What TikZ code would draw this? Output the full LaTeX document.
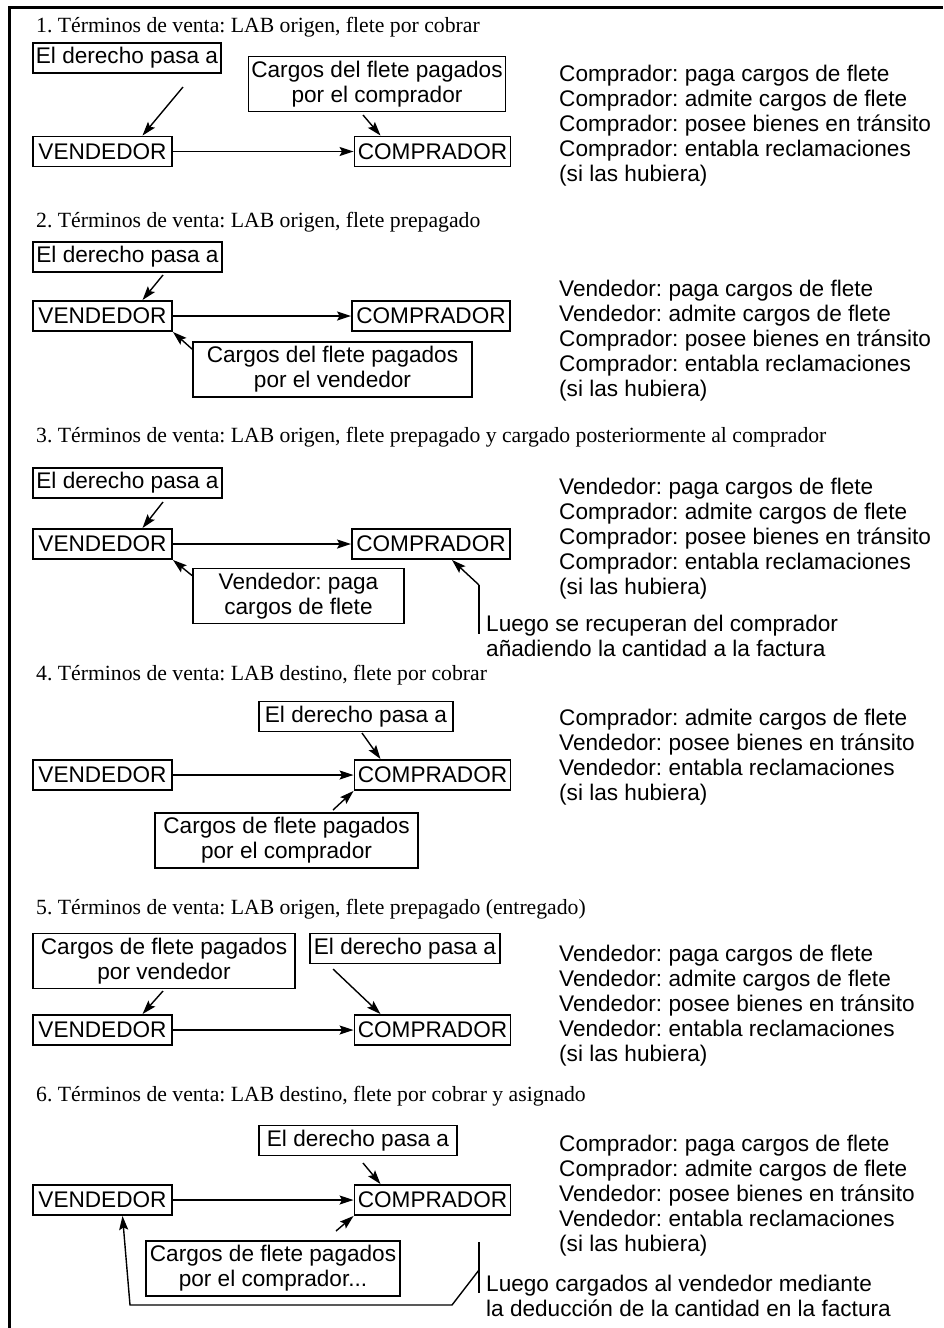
\documentclass[tikz,border=0pt]{standalone}
\usepackage{fontspec}
\setmainfont{Liberation Serif}
\setsansfont{Liberation Sans}
\usetikzlibrary{arrows.meta,calc}
\frenchspacing

\begin{document}
\begin{tikzpicture}[x=1pt,y=-1pt,
  bx/.style={draw, line width=1.9pt, inner sep=0pt, align=center,
    font=\sffamily\fontsize{22.6}{25}\selectfont, minimum height=30pt},
  bx2/.style={bx, minimum height=55pt},
  arr/.style={line width=1.4pt, -{Stealth[length=14pt,width=9pt,inset=2.5pt]}},
  ln/.style={line width=1.4pt},
  head/.style={anchor=base west, inner sep=0pt, font=\fontsize{21.7}{26}\selectfont},
  % multi-line blocks: the base anchor sits on the last line
  side/.style={anchor=base west, inner sep=0pt, align=left,
    font=\sffamily\fontsize{22.6}{25}\selectfont},
]
\useasboundingbox (0,0) rectangle (943,1328);

% outer frame (left and top rules)
\draw[line width=3pt] (9,1328) -- (9,7) -- (943,7);

% ---------- 1 ----------
\node[head] (h1) at (36,32) {1.\ Términos de venta: LAB origen, flete por cobrar};
\node[bx, minimum width=188pt] (d1) at (127,58) {El derecho pasa a};
\node[bx2, minimum width=257pt] (g1) at (377,84) {Cargos del flete pagados\\por el comprador};
\node[bx, minimum width=139pt] (v1) at (102.5,151.5) {VENDEDOR};
\node[bx, minimum width=156pt] (c1) at (432.5,151.5) {COMPRADOR};
\coordinate (s1a) at (183,87);
\coordinate (s1b) at (363,115);
\draw[arr] (v1) -- (c1);
\draw[arr] (s1a) -- ($(v1.north)+(40,0)$);
\draw[arr] (s1b) -- ($(c1.north)+(-52,0)$);
\node[side] (r1) at (559,181) {Comprador: paga cargos de flete\\Comprador: admite cargos de flete\\Comprador: posee bienes en tránsito\\Comprador: entabla reclamaciones\\(si las hubiera)};

% ---------- 2 ----------
\node[head] (h2) at (36,227) {2. Términos de venta: LAB origen, flete prepagado};
\node[bx, minimum width=189pt] (d2) at (127.5,257) {El derecho pasa a};
\node[bx, minimum width=139pt] (v2) at (102.5,316) {VENDEDOR};
\node[bx, minimum width=158pt] (c2) at (431,316) {COMPRADOR};
\node[bx2, minimum width=279pt] (g2) at (332.5,369.5) {Cargos del flete pagados\\por el vendedor};
\coordinate (s2a) at (163,275);
\draw[arr] (v2) -- (c2);
\draw[arr] (s2a) -- ($(v2.north)+(40,0)$);
\draw[arr] ($(g2.north west)+(0,8)$) -- (v2.south east);
\node[side] (r2) at (559,396) {Vendedor: paga cargos de flete\\Vendedor: admite cargos de flete\\Comprador: posee bienes en tránsito\\Comprador: entabla reclamaciones\\(si las hubiera)};

% ---------- 3 ----------
\node[head] (h3) at (36,442) {3. Términos de venta: LAB origen, flete prepagado y cargado posteriormente al comprador};
\node[bx, minimum width=189pt] (d3) at (127.5,483) {El derecho pasa a};
\node[bx, minimum width=139pt] (v3) at (102.5,544) {VENDEDOR};
\node[bx, minimum width=158pt] (c3) at (431,544) {COMPRADOR};
\node[bx2, minimum width=211pt] (p3) at (298.5,596) {Vendedor: paga\\cargos de flete};
\coordinate (s3a) at (163,502);
\coordinate (l3a) at (479,585);
\coordinate (l3b) at (479,634);
\draw[arr] (v3) -- (c3);
\draw[arr] (s3a) -- ($(v3.north)+(40,0)$);
\draw[arr] ($(p3.north west)+(0,8)$) -- (v3.south east);
\draw[ln] (l3a) -- (l3b);
\draw[arr] (l3a) -- ($(c3.south)+(21,0)$);
\node[side] (n3) at (486,656) {Luego se recuperan del comprador\\añadiendo la cantidad a la factura};
\node[side] (r3) at (559,594) {Vendedor: paga cargos de flete\\Comprador: admite cargos de flete\\Comprador: posee bienes en tránsito\\Comprador: entabla reclamaciones\\(si las hubiera)};

% ---------- 4 ----------
\node[head] (h4) at (36,680) {4. Términos de venta: LAB destino, flete por cobrar};
\node[bx, minimum width=194pt] (d4) at (356,716.5) {El derecho pasa a};
\node[bx, minimum width=139pt] (v4) at (102.5,775) {VENDEDOR};
\node[bx, minimum width=156pt] (c4) at (432.5,775) {COMPRADOR};
\node[bx2, minimum width=263pt] (g4) at (286.5,840.5) {Cargos de flete pagados\\por el comprador};
\coordinate (s4a) at (362,733);
\coordinate (s4b) at (333,810);
\draw[arr] (v4) -- (c4);
\draw[arr] (s4a) -- ($(c4.north)+(-52,0)$);
\draw[arr] (s4b) -- (c4.south west);
\node[side] (r4) at (559,800) {Comprador: admite cargos de flete\\Vendedor: posee bienes en tránsito\\Vendedor: entabla reclamaciones\\(si las hubiera)};

% ---------- 5 ----------
\node[head] (h5) at (36,914) {5. Términos de venta: LAB origen, flete prepagado (entregado)};
\node[bx2, minimum width=262pt] (g5) at (164,961) {Cargos de flete pagados\\por vendedor};
\node[bx, minimum width=190pt] (d5) at (405,948.5) {El derecho pasa a};
\node[bx, minimum width=139pt] (v5) at (102.5,1030) {VENDEDOR};
\node[bx, minimum width=156pt] (c5) at (432.5,1030) {COMPRADOR};
\coordinate (s5a) at (163,991);
\coordinate (s5b) at (333,969);
\draw[arr] (v5) -- (c5);
\draw[arr] (s5a) -- ($(v5.north)+(40,0)$);
\draw[arr] (s5b) -- ($(c5.north)+(-52,0)$);
\node[side] (r5) at (559,1061) {Vendedor: paga cargos de flete\\Vendedor: admite cargos de flete\\Vendedor: posee bienes en tránsito\\Vendedor: entabla reclamaciones\\(si las hubiera)};

% ---------- 6 ----------
\node[head] (h6) at (36,1101) {6. Términos de venta: LAB destino, flete por cobrar y asignado};
\node[bx, minimum width=198pt] (d6) at (358,1140.5) {El derecho pasa a};
\node[bx, minimum width=139pt] (v6) at (102.5,1200) {VENDEDOR};
\node[bx, minimum width=156pt] (c6) at (432.5,1200) {COMPRADOR};
\node[bx2, minimum width=254pt] (g6) at (273,1268.5) {Cargos de flete pagados\\por el comprador...};
\coordinate (s6a) at (363,1163);
\coordinate (s6b) at (336,1231);
\coordinate (l6a) at (479,1242);
\coordinate (l6b) at (479,1293);
\coordinate (l6c) at (479,1270);
\coordinate (l6d) at (452,1305);
\coordinate (l6e) at (130,1305);
\draw[arr] (v6) -- (c6);
\draw[arr] (s6a) -- ($(c6.north)+(-52,0)$);
\draw[arr] (s6b) -- (c6.south west);
\draw[ln] (l6a) -- (l6b);
\draw[arr] (l6c) -- (l6d) -- (l6e) -- ($(v6.south)+(20,0)$);
\node[side] (n6) at (486,1316) {Luego cargados al vendedor mediante\\la deducción de la cantidad en la factura};
\node[side] (r6) at (559,1251) {Comprador: paga cargos de flete\\Comprador: admite cargos de flete\\Vendedor: posee bienes en tránsito\\Vendedor: entabla reclamaciones\\(si las hubiera)};
\end{tikzpicture}
\end{document}
